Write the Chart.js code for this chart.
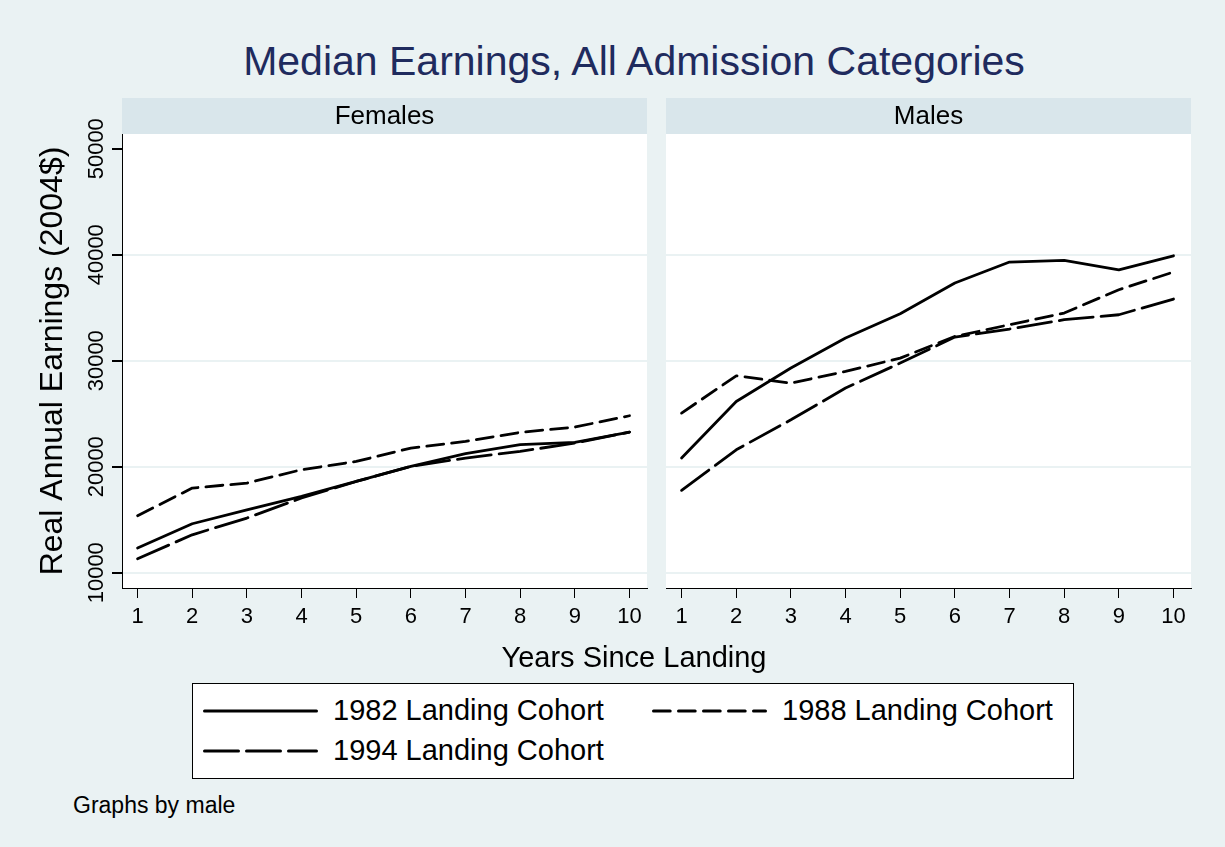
<!DOCTYPE html>
<html>
<head>
<meta charset="utf-8">
<script src="https://cdn.jsdelivr.net/npm/chart.js@4.4.0/dist/chart.umd.min.js"></script>
<style>
  html, body { margin: 0; padding: 0; background: #eaf2f3; }
  body { width: 1225px; height: 847px; position: relative; overflow: hidden; font-family: "Liberation Sans", Arial, sans-serif; color: #000; }
  .abs { position: absolute; white-space: nowrap; line-height: 1; }
  #title { left: 634px; top: 41px; font-size: 41px; color: #1f2b5e; transform: translateX(-50%); }
  #xtitle { left: 634px; top: 643px; font-size: 29px; transform: translateX(-50%); }
  #note { left: 73px; top: 794px; font-size: 23px; }
  #legend { left: 192px; top: 683px; width: 880px; height: 94px; background: #fff; border: 1px solid #000; }
  #legend .txt { position: absolute; font-size: 29px; line-height: 1; white-space: nowrap; }
  #legend svg { position: absolute; }
  #cvF { position: absolute; left: 0; top: 90px; }
  #cvM { position: absolute; left: 650px; top: 90px; }
</style>
</head>
<body>
<div id="title" class="abs">Median Earnings, All Admission Categories</div>
<canvas id="cvF" width="650" height="560"></canvas>
<canvas id="cvM" width="575" height="560"></canvas>
<div id="xtitle" class="abs">Years Since Landing</div>
<div id="legend" class="abs"></div>
<div id="note" class="abs">Graphs by male</div>
<script>
const years = [1, 2, 3, 4, 5, 6, 7, 8, 9, 10];
const cohorts = ['1982 Landing Cohort', '1988 Landing Cohort', '1994 Landing Cohort'];

const female1982 = [12330, 14620, 15940, 17200, 18610, 20030, 21230, 22080, 22290, 23270];
const female1988 = [15380, 17990, 18460, 19720, 20500, 21760, 22390, 23240, 23740, 24810];
const female1994 = [11320, 13580, 15160, 17050, 18610, 20030, 20820, 21450, 22230, 23270];

const male1982 = [20820, 26160, 29310, 32140, 34430, 37330, 39310, 39460, 38580, 39900];
const male1988 = [25060, 28580, 27890, 28990, 30250, 32290, 33400, 34500, 36700, 38370];
const male1994 = [17770, 21600, 24430, 27420, 29780, 32230, 32990, 33870, 34340, 35820];

const yTicks = [10000, 20000, 30000, 40000, 50000];
const yNoGrid = [50000];

const FONT = '"Liberation Sans", Arial, sans-serif';
const dashes = [[], [17, 8], [34, 8]];

// header strip above each panel + white plot region
const panelStrip = {
  id: 'panelStrip',
  beforeDraw(chart, args, opts) {
    const { ctx, chartArea: a } = chart;
    ctx.save();
    ctx.fillStyle = '#fff';
    ctx.fillRect(a.left, a.top, a.right - a.left, a.bottom - a.top);
    ctx.fillStyle = '#d9e6eb';
    ctx.fillRect(a.left, a.top - 36, a.right - a.left, 36);
    ctx.fillStyle = '#000';
    ctx.font = '26px ' + FONT;
    ctx.textAlign = 'center';
    ctx.textBaseline = 'middle';
    ctx.fillText(opts.text, (a.left + a.right) / 2, a.top - 17);
    ctx.restore();
  }
};

// stata style vertical y tick labels
const sideTicks = {
  id: 'sideTicks',
  afterDraw(chart, args, opts) {
    if (!opts.show) return;
    const s = chart.scales.y, ctx = chart.ctx;
    ctx.save();
    ctx.font = '22px ' + FONT;
    ctx.fillStyle = '#000';
    ctx.textAlign = 'center';
    ctx.textBaseline = 'middle';
    s.ticks.forEach(t => {
      ctx.save();
      ctx.translate(s.right - opts.offset, s.getPixelForValue(t.value));
      ctx.rotate(-Math.PI / 2);
      ctx.fillText(String(t.value), 0, 0);
      ctx.restore();
    });
    ctx.restore();
  }
};

function panel(id, label, series, isLeft) {
  new Chart(document.getElementById(id), {
    type: 'line',
    data: {
      datasets: series.map((vals, i) => ({
        label: cohorts[i],
        data: years.map((x, j) => ({ x, y: vals[j] })),
        borderColor: '#000',
        borderWidth: 2.8,
        borderDash: dashes[i],
        borderCapStyle: 'round',
        borderJoinStyle: 'round',
        pointRadius: 0,
        tension: 0,
        fill: false,
      })),
    },
    options: {
      responsive: false,
      animation: false,
      events: [],
      layout: { padding: isLeft ? { left: 28, top: 44, right: 3, bottom: 0 } : { left: 16, top: 44, right: 34, bottom: 0 } },
      plugins: {
        legend: { display: false },
        tooltip: { enabled: false },
        panelStrip: { text: label },
        sideTicks: { show: isLeft, offset: 25 },
      },
      scales: {
        x: {
          type: 'linear', min: 0.715, max: 10.32,
          afterBuildTicks: s => { s.ticks = years.map(v => ({ value: v })); },
          afterFit: s => { s.height = 62; },
          grid: { drawOnChartArea: false, drawTicks: true, tickLength: 10, tickColor: '#000', lineWidth: 1 },
          border: { display: true, color: '#000', width: 1 },
          ticks: { color: '#000', font: { size: 22, family: FONT }, padding: 6, maxRotation: 0, autoSkip: false },
        },
        y: {
          type: 'linear', min: 8560, max: 51390,
          afterBuildTicks: s => { s.ticks = yTicks.map(v => ({ value: v })); },
          afterFit: s => { s.width = isLeft ? 94 : 0; },
          grid: {
            color: c => (c.tick && yNoGrid.includes(c.tick.value)) ? 'rgba(0,0,0,0)' : '#eaf2f3',
            lineWidth: 2, drawTicks: isLeft, tickLength: 10, tickColor: '#000',
          },
          border: { display: isLeft, color: '#000', width: 1 },
          ticks: { display: false },
          title: { display: isLeft, text: 'Real Annual Earnings (2004$)', color: '#000', font: { size: 32, family: FONT }, padding: { top: 6, bottom: 0 } },
        },
      },
    },
    plugins: [panelStrip, sideTicks],
  });
}

panel('cvF', 'Females', [female1982, female1988, female1994], true);
panel('cvM', 'Males', [male1982, male1988, male1994], false);

// legend (stata style box, two columns)
const legendPos = [[10, 140, 27], [459, 589, 27], [10, 140, 67]];
const legendDash = ['', '16.7 8.3', '34 8'];
document.getElementById('legend').innerHTML = cohorts.map((c, i) => {
  const [lx, tx, cy] = legendPos[i];
  return `<svg style="left:${lx}px;top:${cy - 5}px" width="116" height="10">
      <line x1="1.5" y1="5" x2="113.5" y2="5" stroke="#000" stroke-width="3" stroke-linecap="round" stroke-dasharray="${legendDash[i]}"/>
    </svg>
    <div class="txt" style="left:${tx}px;top:${cy - 15}px">${c}</div>`;
}).join('');
</script>
</body>
</html>
